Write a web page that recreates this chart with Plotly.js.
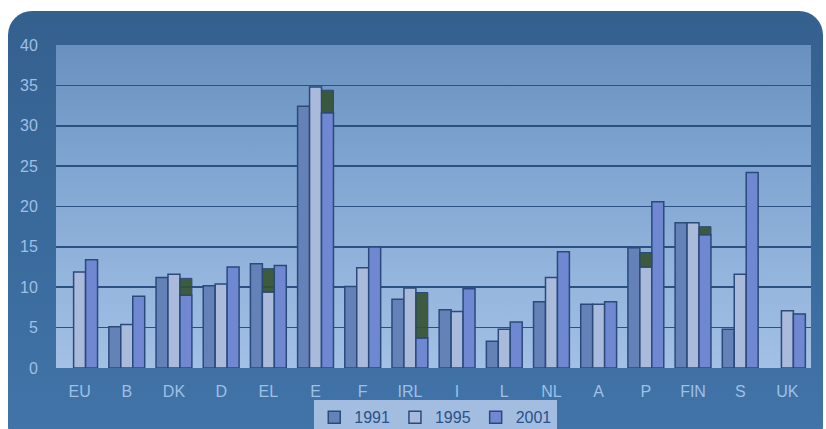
<!DOCTYPE html>
<html>
<head>
<meta charset="utf-8">
<script src="https://cdn.plot.ly/plotly-3.0.1.min.js"></script>
<style>
  html, body { margin:0; padding:0; background:#ffffff; width:826px; height:429px; overflow:hidden; }
  #frame { position:absolute; left:8px; top:11px; width:815px; height:440px; border-radius:24px;
           background:linear-gradient(to bottom, #34608e 0%, #3a6a9c 50%, #4275aa 100%); }
  #plotbg { position:absolute; left:56px; top:45px; width:755px; height:323px;
            background:linear-gradient(to bottom, #6990bf 0%, #7ea4d0 35%, #93b4dc 70%, #a3c0e5 100%); }
  #chart { position:absolute; left:0; top:0; width:826px; height:429px; }
</style>
</head>
<body>
<div id="frame"></div>
<div id="plotbg"></div>
<div id="chart"></div>
<script>
const categories = ['EU','B','DK','D','EL','E','F','IRL','I','L','NL','A','P','FIN','S','UK'];
const years = ['1991','1995','2001'];
const v1991 = [null, 5.1, 11.2, 10.2, 12.9, 32.4, 10.1, 8.5, 7.2, 3.3, 8.2, 7.9, 14.9, 18.0, 4.8, null];
const v1995 = [11.9, 5.4, 11.6, 10.4, 9.4, 34.8, 12.4, 9.9, 7.0, 4.8, 11.2, 7.9, 12.5, 18.0, 11.6, 7.1];
const v2001 = [13.4, 8.9, 9.0, 12.5, 12.7, 31.6, 15.0, 3.7, 9.8, 5.7, 14.4, 8.2, 20.6, 16.5, 24.2, 6.7];
// dark shaded tops seen above some bars (upper edge of the dark band)
const shadeTop1995 = [null, null, null, null, 12.3, null, null, null, null, null, null, null, 14.3, null, null, null];
const shadeTop2001 = [null, null, 11.1, null, null, 34.4, null, 9.35, null, null, null, null, null, 17.5, null, null];

const colors = ['#6482b8', '#a9badb', '#7088d2'];
const outline = '#2a4a7c';
const series = [v1991, v1995, v2001];

const traces = series.map((vals, i) => ({
  type: 'bar', name: years[i], x: categories, y: vals, offsetgroup: years[i],
  marker: { color: colors[i], line: { color: outline, width: 1.5 } },
  hoverinfo: 'skip'
}));

function shadeTrace(tops, base, group) {
  const h = tops.map((t, i) => (t == null ? null : +(t - base[i]).toFixed(2)));
  const b = tops.map((t, i) => (t == null ? null : base[i]));
  return { type: 'bar', x: categories, y: h, base: b, offsetgroup: group, showlegend: false,
           marker: { color: 'rgba(52,80,48,0.9)', line: { color: outline, width: 1 } }, hoverinfo: 'skip' };
}
traces.push(shadeTrace(shadeTop1995, v1995, '1995'));
traces.push(shadeTrace(shadeTop2001, v2001, '2001'));

const layout = {
  width: 826, height: 429,
  margin: { l: 56, r: 15, t: 45, b: 61, autoexpand: false },
  paper_bgcolor: 'rgba(0,0,0,0)', plot_bgcolor: 'rgba(0,0,0,0)',
  barmode: 'group', bargap: 0.24, bargroupgap: 0,
  font: { family: '"Liberation Sans Narrow", "Liberation Sans", Arial, sans-serif' },
  xaxis: {
    type: 'category', showgrid: false, zeroline: false, showline: false, automargin: false,
    ticks: 'outside', ticklen: 9, tickcolor: 'rgba(0,0,0,0)',
    tickfont: { size: 16, color: '#9fbfe6' }
  },
  yaxis: {
    range: [0, 40], dtick: 5, showgrid: true, gridcolor: '#2b5183', gridwidth: 1.6,
    zeroline: false, showline: false, automargin: false,
    ticks: 'outside', ticklen: 14, tickcolor: 'rgba(0,0,0,0)',
    tickfont: { size: 16, color: '#9fbfe6' }
  },
  showlegend: true,
  legend: {
    orientation: 'h', x: 0.503, xanchor: 'center', y: -0.1, yanchor: 'top',
    bgcolor: '#a3bde0', borderwidth: 0,
    font: { size: 16, color: '#2a5189' },
    itemwidth: 30, traceorder: 'normal'
  },
  hovermode: false
};

Plotly.newPlot('chart', traces, layout, { displayModeBar: false, staticPlot: true });
</script>
</body>
</html>
